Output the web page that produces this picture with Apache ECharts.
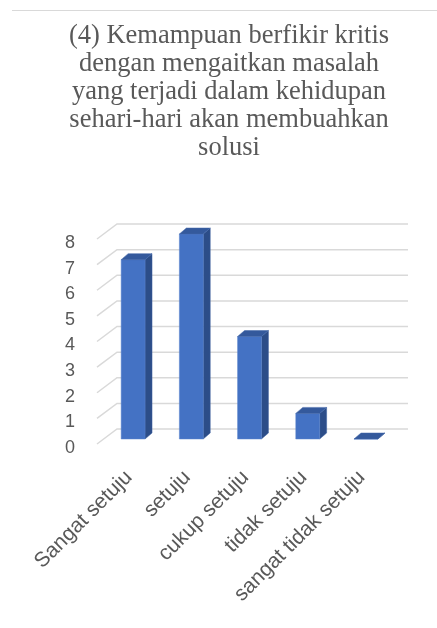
<!DOCTYPE html>
<html>
<head>
  <meta charset="UTF-8">
  <title>Kemampuan berfikir kritis</title>
  <script src="https://cdn.jsdelivr.net/npm/echarts@6/dist/echarts.min.js"></script>
  <style>
    html, body { margin: 0; padding: 0; background: #fff; }
    #main { width: 437px; height: 628px; }
  </style>
</head>
<body>
  <div id="main"></div>
  <script>
    var titleText = '(4) Kemampuan berfikir kritis\ndengan mengaitkan masalah\nyang terjadi dalam kehidupan\nsehari-hari akan membuahkan\nsolusi'
    var categories = ['Sangat setuju', 'setuju', 'cukup setuju', 'tidak setuju', 'sangat tidak setuju']
    var values = [7, 8, 4, 1, 0]
    var yTicks = [0, 1, 2, 3, 4, 5, 6, 7, 8]

    var mCharts = echarts.init(document.getElementById('main'))

    // 3D look: depth offset of the bar side/top
    var DX = 7, DY = -6

    function renderBar(params, api) {
      var base = api.coord([api.value(0), 0])
      var top = api.coord([api.value(0), api.value(1)])
      var w = api.size([1, 0])[0] * 0.41
      var x0 = base[0] - w / 2, x1 = base[0] + w / 2
      var yb = base[1], yt = top[1]
      return {
        type: 'group',
        children: [
          {
            type: 'polygon',
            shape: { points: [[x1, yt], [x1 + DX, yt + DY], [x1 + DX, yb + DY], [x1, yb]] },
            style: { fill: '#2c4d88', stroke: '#3a5f9e', lineWidth: 0.5 }
          },
          {
            type: 'rect',
            shape: { x: x0, y: yt, width: w, height: yb - yt },
            style: { fill: '#4472c4', stroke: '#5a84cc', lineWidth: 0.5 }
          },
          {
            type: 'polygon',
            shape: { points: [[x0, yt], [x0 + DX, yt + DY], [x1 + DX, yt + DY], [x1, yt]] },
            style: { fill: '#34599c', stroke: '#4066a8', lineWidth: 0.5 }
          }
        ]
      }
    }

    // gridlines drawn as floor/back wall: front diagonal + back line
    function renderGrid(params, api) {
      var cs = params.coordSys
      var y = api.coord([0, api.value(1)])[1]
      return {
        type: 'polyline',
        shape: { points: [[cs.x - 7, y + 5], [cs.x + 13, y - 10], [cs.x + cs.width + 13, y - 10]] },
        style: { stroke: '#d9d9d9', lineWidth: 1.5, fill: null }
      }
    }

    var option = {
      animation: false,
      title: {
        text: titleText,
        left: 224,
        top: 17,
        textAlign: 'center',
        textStyle: {
          fontFamily: 'Liberation Serif',
          fontSize: 26.5,
          lineHeight: 28,
          fontWeight: 'normal',
          color: '#595959'
        }
      },
      graphic: [
        {
          type: 'line',
          shape: { x1: 12, y1: 10.5, x2: 437, y2: 10.5 },
          style: { stroke: '#d9d9d9', lineWidth: 1 }
        }
      ],
      grid: { left: 104, right: 42, top: 234, bottom: 189 },
      xAxis: {
        type: 'category',
        data: categories,
        axisLine: { show: false },
        axisTick: { show: false },
        axisLabel: {
          rotate: 45,
          interval: 0,
          margin: 31,
          fontFamily: 'Liberation Sans',
          fontSize: 21,
          color: '#595959',
          formatter: function (v) { return v + ' ' }
        }
      },
      yAxis: {
        type: 'value',
        min: 0,
        max: 8,
        interval: 1,
        splitLine: { show: false },
        axisLine: { show: false },
        axisTick: { show: false },
        axisLabel: {
          margin: 29,
          verticalAlign: 'top',
          fontFamily: 'Liberation Sans',
          fontSize: 18,
          color: '#595959'
        }
      },
      series: [
        {
          type: 'custom',
          renderItem: renderGrid,
          data: yTicks.map(function (v) { return [0, v] }),
          z: 1,
          silent: true
        },
        {
          type: 'custom',
          renderItem: renderBar,
          data: values.map(function (v, i) { return [i, v] }),
          z: 2
        }
      ]
    }
    mCharts.setOption(option)
  </script>
</body>
</html>
